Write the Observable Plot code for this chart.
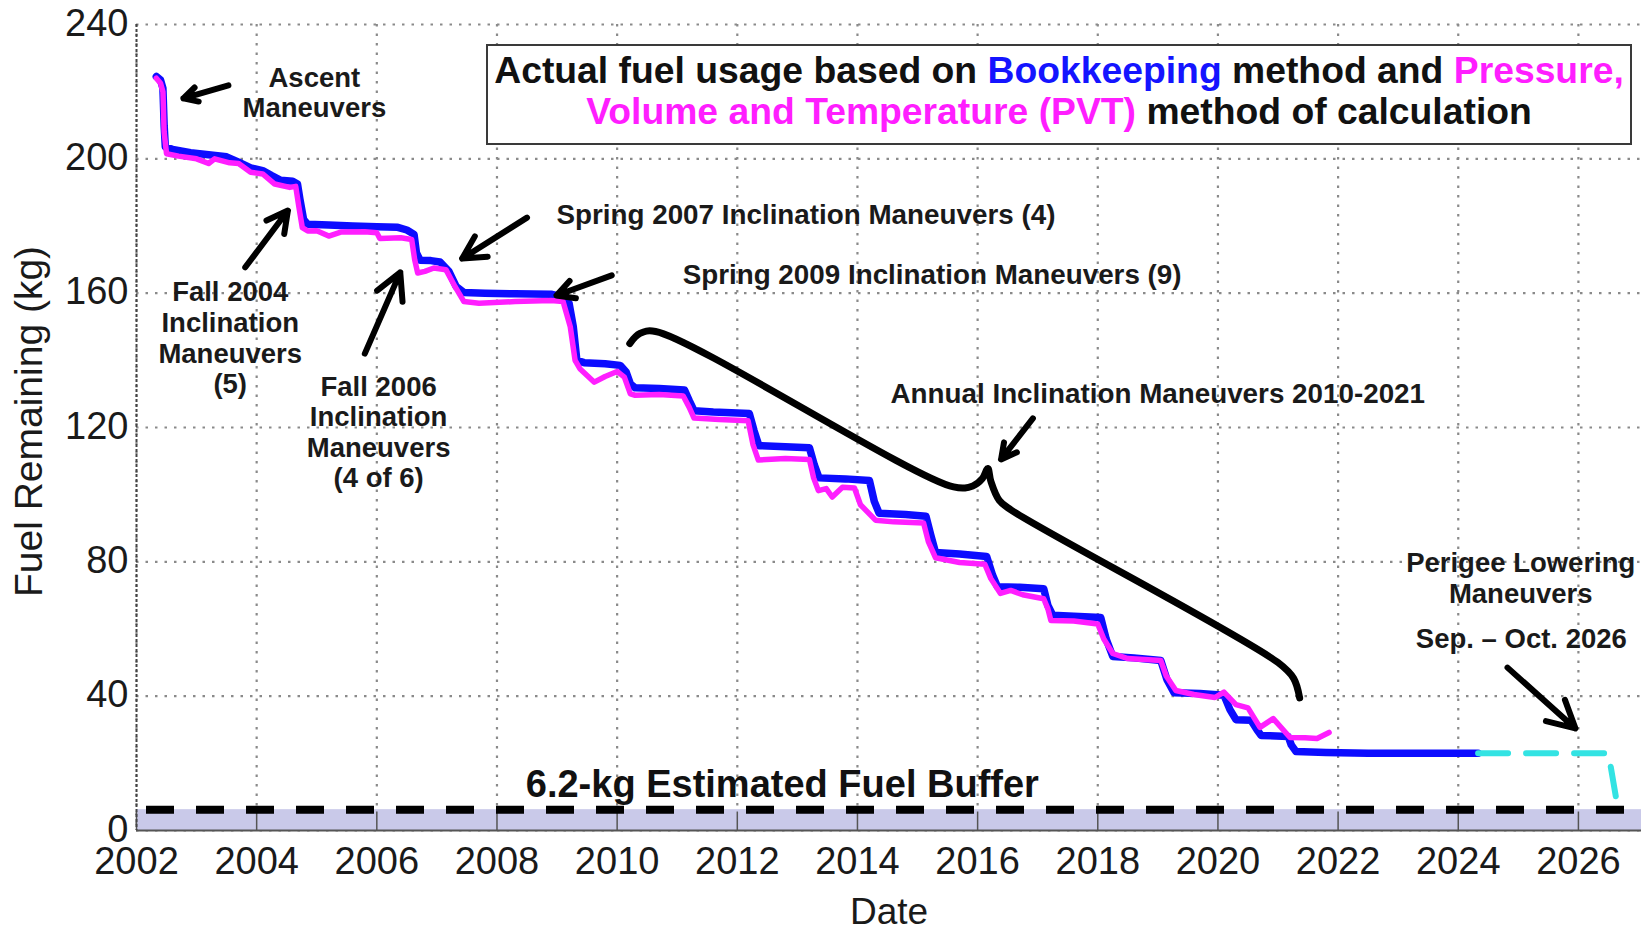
<!DOCTYPE html>
<html>
<head>
<meta charset="utf-8">
<script src="https://cdn.jsdelivr.net/npm/d3@7"></script>
<script src="https://cdn.jsdelivr.net/npm/@observablehq/plot@0.6"></script>
<style>
  body { margin: 0; background: #fff; }
  #wrap { position: relative; width: 1646px; height: 930px; font-family: "Liberation Sans", Arial, sans-serif; }
  #legend {
    position: absolute; left: 486px; top: 44px; width: 1146px; height: 101px;
    box-sizing: border-box; border: 2px solid #3a3a3a; background: #fff;
    text-align: center; font-weight: bold; font-size: 37.3px; line-height: 41px;
    padding-top: 4px; color: #111; white-space: nowrap;
  }
  #legend .bk { color: #1414ff; }
  #legend .pvt { color: #ff1eff; }
</style>
</head>
<body>
<div id="wrap">
  <div id="legend">Actual fuel usage based on <span class="bk">Bookkeeping</span> method and <span class="pvt">Pressure,</span><br><span class="pvt">Volume and Temperature (PVT)</span> method of calculation</div>
</div>
<script>
// ---------- data ----------
const xTicks = [2002, 2004, 2006, 2008, 2010, 2012, 2014, 2016, 2018, 2020, 2022, 2024, 2026];
const yTicks = [0, 40, 80, 120, 160, 200, 240];
const xDomain = [2002, 2027.05];
const yDomain = [0, 240];
const bufferKg = 6.2;

// Bookkeeping method [year, kg]
const bookkeeping = [
  [2002.33, 224.5], [2002.40, 223.5], [2002.44, 221], [2002.46, 210], [2002.48, 203.5],
  [2002.6, 202.8], [2002.9, 201.8], [2003.2, 201.2], [2003.5, 200.6], [2003.7, 199],
  [2003.9, 197.3], [2004.1, 196.5], [2004.25, 195], [2004.4, 193.6], [2004.6, 193.3],
  [2004.68, 192.5], [2004.72, 188], [2004.78, 182], [2004.85, 180.5], [2005.2, 180.3],
  [2005.6, 180.0], [2006.0, 179.8], [2006.35, 179.6], [2006.5, 178.8], [2006.62, 177.5],
  [2006.66, 172], [2006.72, 169.8], [2006.9, 169.7], [2007.05, 169.3], [2007.2, 166.5],
  [2007.32, 162], [2007.45, 160.2], [2007.8, 160], [2008.3, 159.8], [2008.9, 159.7],
  [2009.1, 158.8], [2009.2, 157], [2009.27, 150], [2009.33, 140], [2009.45, 139.3],
  [2009.8, 139], [2010.05, 138.5], [2010.15, 136.5], [2010.22, 133], [2010.3, 131.8],
  [2010.7, 131.6], [2011.12, 131.2], [2011.2, 128], [2011.28, 125], [2011.6, 124.6],
  [2012.2, 124.2], [2012.28, 119], [2012.36, 114.6], [2012.8, 114.3], [2013.2, 114.0],
  [2013.28, 109], [2013.36, 105], [2013.8, 104.7], [2014.2, 104.2], [2014.28, 98],
  [2014.36, 94.5], [2014.8, 94.1], [2015.14, 93.6], [2015.22, 88], [2015.3, 82.8],
  [2015.7, 82.3], [2016.15, 81.6], [2016.25, 76], [2016.33, 72.6], [2016.7, 72.4],
  [2017.1, 72], [2017.17, 67], [2017.25, 64.1], [2017.6, 63.8], [2018.05, 63.4],
  [2018.14, 57], [2018.25, 51.8], [2018.6, 51.4], [2019.05, 50.6], [2019.15, 45],
  [2019.27, 41], [2019.7, 40.8], [2020.1, 40.3], [2020.2, 36], [2020.3, 33],
  [2020.55, 32.8], [2020.65, 30], [2020.72, 28.3], [2021.17, 28], [2021.22, 25.5],
  [2021.3, 23.5], [2021.8, 23.2], [2022.5, 23], [2023.3, 23], [2024.33, 23]
];

// PVT method [year, kg]
const pvt = [
  [2002.33, 224], [2002.40, 222.5], [2002.44, 220], [2002.46, 208], [2002.5, 201.5],
  [2002.7, 200.8], [2003.0, 200], [2003.2, 198.6], [2003.3, 200], [2003.55, 198.8],
  [2003.7, 198.6], [2003.9, 196], [2004.1, 195.5], [2004.3, 192.5], [2004.55, 191.5],
  [2004.65, 191.8], [2004.7, 186], [2004.76, 179.5], [2004.85, 178.5], [2005.0, 178.6],
  [2005.2, 177], [2005.4, 178.2], [2005.8, 178.3], [2006.0, 178], [2006.05, 176.3],
  [2006.4, 176.5], [2006.58, 176], [2006.63, 170], [2006.68, 166], [2006.8, 166.5],
  [2006.95, 167.5], [2007.15, 167], [2007.3, 162], [2007.45, 157.5], [2007.7, 157],
  [2008.3, 157.5], [2008.9, 157.8], [2009.1, 157.5], [2009.22, 150], [2009.3, 140],
  [2009.38, 137.5], [2009.62, 133.5], [2009.8, 135.2], [2010.0, 136.7], [2010.12, 135],
  [2010.22, 130], [2010.3, 129.6], [2010.7, 129.8], [2011.1, 129.4], [2011.2, 126],
  [2011.28, 122.8], [2011.7, 122.4], [2012.18, 122], [2012.26, 115], [2012.35, 110.3],
  [2012.8, 110.8], [2013.2, 110.5], [2013.27, 105], [2013.35, 101.2], [2013.48, 101.8],
  [2013.58, 99.3], [2013.75, 102.2], [2013.95, 102], [2014.05, 97], [2014.3, 92.4],
  [2014.6, 91.9], [2015.1, 91.6], [2015.18, 86], [2015.3, 81.2], [2015.7, 79.8],
  [2016.12, 79.3], [2016.22, 75], [2016.38, 70.6], [2016.55, 71.5], [2016.75, 70.2],
  [2017.1, 69], [2017.17, 66], [2017.22, 62.5], [2017.6, 62.4], [2018.0, 61.5],
  [2018.1, 57], [2018.25, 52.7], [2018.5, 51.2], [2019.05, 50.6], [2019.14, 46],
  [2019.3, 41.7], [2019.6, 40.5], [2019.95, 39.6], [2020.1, 41.2], [2020.3, 37.5],
  [2020.5, 36.5], [2020.7, 30.7], [2020.92, 33.3], [2021.2, 27.7], [2021.45, 27.6],
  [2021.65, 27.4], [2021.85, 29.2]
];

// Projected usage [year, kg]
const projection = [[2024.33, 23], [2026.5, 23], [2026.66, 6.2]];

// Brace over annual maneuvers [year, kg]
const brace = [
  [2010.21, 145.0], [2010.38, 148.0], [2010.64, 148.6], [2015.6, 102.3], [2015.92, 102.6],
  [2016.08, 104.8], [2016.17, 107.8], [2016.22, 104.0], [2016.36, 98.3], [2016.56, 95.4],
  [2021.0, 50.0], [2021.26, 45.3], [2021.36, 39.5]
];

// Arrows [x1, y1, x2, y2]
const arrows = [
  [2003.53, 221.9, 2002.78, 218.0],
  [2003.81, 167.7, 2004.52, 184.6],
  [2005.80, 142.0, 2006.39, 166.2],
  [2008.50, 182.5, 2007.42, 170.3],
  [2009.91, 165.3, 2008.99, 159.3],
  [2016.92, 122.7, 2016.39, 110.5],
  [2024.82, 48.5, 2025.95, 30.4]
];

// Annotations
const notesCenter = [
  {x: 2004.96, y: 219.8, text: "Ascent\nManeuvers"},
  {x: 2003.56, y: 146.8, text: "Fall 2004\nInclination\nManeuvers\n(5)"},
  {x: 2006.03, y: 118.7, text: "Fall 2006\nInclination\nManeuvers\n(4 of 6)"},
  {x: 2025.04, y: 75.2, text: "Perigee Lowering\nManeuvers"},
  {x: 2025.05, y: 57.2, text: "Sep. – Oct. 2026"}
];
const notesStart = [
  {x: 2008.99, y: 183.1, text: "Spring 2007 Inclination Maneuvers (4)"},
  {x: 2011.09, y: 165.3, text: "Spring 2009 Inclination Maneuvers (9)"},
  {x: 2014.55, y: 129.8, text: "Annual Inclination Maneuvers 2010-2021"}
];
const bufferLabel = [{x: 2012.75, y: 13.7, text: "6.2-kg Estimated Fuel Buffer"}];

// ---------- chart ----------
const F = "'Liberation Sans', Arial, sans-serif";
const rows = (pairs) => pairs.map(([x, y]) => ({x, y}));
const arrowRows = arrows.map(([x1, y1, x2, y2]) => ({x1, y1, x2, y2}));

const chart = Plot.plot({
  width: 1646, height: 930,
  marginTop: 24, marginRight: 5, marginBottom: 100, marginLeft: 136,
  style: {fontFamily: F, background: "transparent", overflow: "visible"},
  x: {domain: xDomain},
  y: {domain: yDomain},
  marks: [
    Plot.gridX(xTicks, {stroke: "#8a8a8a", strokeOpacity: 1, strokeWidth: 2.2, strokeDasharray: "2.5,7"}),
    Plot.gridY(yTicks, {stroke: "#8a8a8a", strokeOpacity: 1, strokeWidth: 2.2, strokeDasharray: "2.5,7"}),
    Plot.rect([{x1: xDomain[0], x2: xDomain[1], y1: 0, y2: bufferKg}], {x1: "x1", x2: "x2", y1: "y1", y2: "y2", fill: "#c9c9e9"}),
    Plot.ruleX(xTicks, {y1: 0, y2: 5.5, stroke: "#555", strokeWidth: 1.5}),
    Plot.ruleY([0], {stroke: "#555", strokeWidth: 2}),
    Plot.ruleX([xDomain[0]], {stroke: "#444", strokeWidth: 2, strokeDasharray: "3,2"}),
    Plot.axisX(xTicks, {tickSize: 0, tickPadding: 17, fontSize: 38, tickFormat: d => String(d), label: null, color: "#1a1a1a"}),
    Plot.axisY(yTicks, {tickSize: 0, tickPadding: 8, dy: -1, fontSize: 38, label: null, color: "#1a1a1a"}),
    Plot.ruleY([bufferKg], {stroke: "black", strokeWidth: 8, strokeDasharray: "28,22", strokeDashoffset: -10}),
    Plot.line(rows(bookkeeping), {x: "x", y: "y", stroke: "#0c0cff", strokeWidth: 7.5, strokeLinejoin: "round"}),
    Plot.line(rows(pvt), {x: "x", y: "y", stroke: "#ff1eff", strokeWidth: 5.5, strokeLinejoin: "round"}),
    Plot.line(rows(projection), {x: "x", y: "y", stroke: "#33e3e3", strokeWidth: 6, strokeDasharray: "30,18"}),
    Plot.line(rows(brace), {x: "x", y: "y", stroke: "black", strokeWidth: 7, curve: "catmull-rom", strokeLinecap: "round", strokeLinejoin: "round"}),
    Plot.arrow(arrowRows, {x1: "x1", y1: "y1", x2: "x2", y2: "y2", stroke: "black", strokeWidth: 6, headLength: 22, headAngle: 56}),
    Plot.text(notesCenter, {x: "x", y: "y", text: "text", fontSize: 27.5, fontWeight: "bold", lineHeight: 1.11, fill: "#1a1a1a"}),
    Plot.text(notesStart, {x: "x", y: "y", text: "text", fontSize: 27.8, fontWeight: "bold", textAnchor: "start", fill: "#1a1a1a"}),
    Plot.text(bufferLabel, {x: "x", y: "y", text: "text", fontSize: 38, fontWeight: "bold", fill: "#111"}),
    Plot.text(["Fuel Remaining (kg)"], {text: d => d, frameAnchor: "left", textAnchor: "middle", lineAnchor: "middle", dx: -106.5, dy: -6, rotate: -90, fontSize: 39, fill: "#1a1a1a"}),
    Plot.text(["Date"], {text: d => d, frameAnchor: "bottom", textAnchor: "middle", lineAnchor: "middle", dy: 82, fontSize: 37, fill: "#1a1a1a"})
  ]
});
chart.style.position = "absolute";
chart.style.left = "0";
chart.style.top = "0";
const wrap = document.getElementById("wrap");
wrap.insertBefore(chart, wrap.firstChild);
</script>
</body>
</html>
